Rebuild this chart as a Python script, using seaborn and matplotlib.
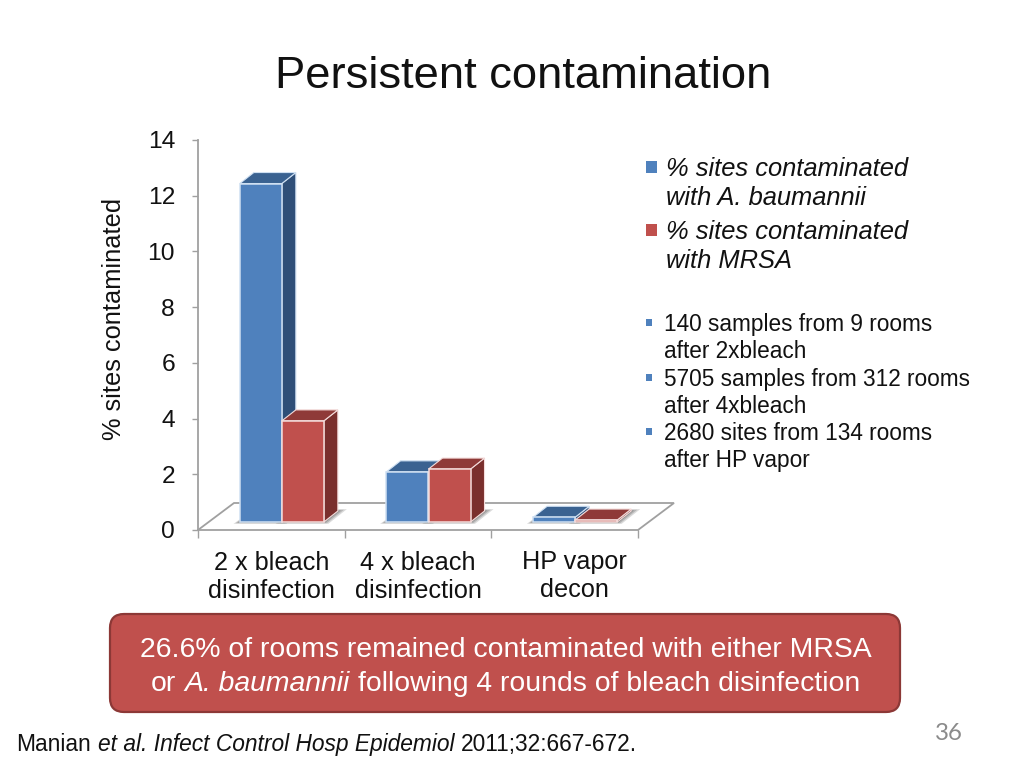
import pandas as pd
import seaborn as sns
import matplotlib.pyplot as plt
from matplotlib.patches import Polygon, Rectangle, FancyBboxPatch
from matplotlib.transforms import Affine2D

# chart values, measured from the floor of the bars
categories = ["2 x bleach\ndisinfection", "4 x bleach\ndisinfection", "HP vapor\ndecon"]
baumannii = [12.15, 1.8, 0.17]
mrsa = [3.63, 1.9, 0.07]
series_names = ["% sites contaminated\nwith A. baumannii", "% sites contaminated\nwith MRSA"]
y_ticks = [0, 2, 4, 6, 8, 10, 12, 14]
notes = ["140 samples from 9 rooms\nafter 2xbleach",
         "5705 samples from 312 rooms\nafter 4xbleach",
         "2680 sites from 134 rooms\nafter HP vapor"]

front_colors = ["#4f81bd", "#c0504d"]
top_colors = ["#3a6291", "#8f3a38"]
side_colors = ["#2f4f78", "#7a2f2d"]
edge_colors = ["#cfe0f2", "#f4dcdb"]
axis_gray = "#a0a0a0"
ink = "#111111"

sns.set_theme(style="white")
plt.rcParams['font.family'] = ['Liberation Sans', 'DejaVu Sans']
plt.rcParams['text.color'] = ink


def fs(px):
    return px * 0.72


df = pd.DataFrame({
    "category": categories * 2,
    "value": baumannii + mrsa,
    "series": [series_names[0]] * 3 + [series_names[1]] * 3,
})

fig = plt.figure(figsize=(10.24, 7.68), dpi=100)
# slide coordinates, in pixels from the top left
px = Affine2D().scale(1 / 1024, -1 / 768).translate(0, 1) + fig.transFigure
ax = fig.add_axes([198 / 1024, 1 - 530 / 768, 440 / 1024, 390 / 768])

sns.barplot(data=df, x="category", y="value", hue="series", palette=front_colors,
            width=0.573, gap=0, saturation=1, legend=False, ax=ax)

ax.set_xlim(-0.5, 2.5)
ax.set_ylim(0, 14)

# depth of the floor and of the bars, in data units
x_per_px = 3 / 440
y_per_px = 14 / 390
floor_dx, floor_dy = 36 * x_per_px, 27 * y_per_px
bar_dx, bar_dy = 14 * x_per_px, 11 * y_per_px
shift_x, lift_y = 10.5 * x_per_px, 8 * y_per_px

# floor behind the bars
ax.add_patch(Polygon([(-0.5, 0), (-0.5 + floor_dx, floor_dy), (2.5 + floor_dx, floor_dy), (2.5, 0)],
                     closed=False, fill=False, edgecolor=axis_gray, lw=1.3, clip_on=False, zorder=1))

# turn the flat seaborn bars into boxes
for i, container in enumerate(ax.containers):
    for bar in container:
        x0 = bar.get_x() + shift_x
        w = bar.get_width()
        h = bar.get_height()
        bar.set_x(x0)
        bar.set_y(lift_y)
        bar.set_edgecolor(edge_colors[i])
        bar.set_linewidth(1.1)
        bar.set_zorder(3 + i)
        bar.set_clip_on(False)
        y0 = lift_y
        y1 = lift_y + h
        x1 = x0 + w
        # soft shadow on the floor
        for grow, alpha in zip([9, 6, 3], [0.22, 0.28, 0.36]):
            gx = grow * x_per_px
            gy = grow * y_per_px * 0.2
            ax.add_patch(Polygon([(x0 - gx * 0.7, y0 - gy), (x1 + gx * 0.5, y0 - gy),
                                  (x1 + bar_dx + gx, y0 + bar_dy + gy), (x0 + bar_dx, y0 + bar_dy + gy)],
                                 facecolor="#5a5a5a", edgecolor="none", alpha=alpha, zorder=2, clip_on=False))
        ax.add_patch(Polygon([(x1, y0), (x1 + bar_dx, y0 + bar_dy), (x1 + bar_dx, y1 + bar_dy), (x1, y1)],
                             facecolor=side_colors[i], edgecolor=edge_colors[i], lw=0.8,
                             zorder=3 + i - 0.1, clip_on=False))
        ax.add_patch(Polygon([(x0, y1), (x0 + bar_dx, y1 + bar_dy), (x1 + bar_dx, y1 + bar_dy), (x1, y1)],
                             facecolor=top_colors[i], edgecolor=edge_colors[i], lw=0.8,
                             zorder=3 + i - 0.1, clip_on=False))

sns.despine(ax=ax, top=True, right=True)
for side in ["left", "bottom"]:
    ax.spines[side].set_color(axis_gray)
    ax.spines[side].set_linewidth(1.3)
    ax.spines[side].set_zorder(2)

ax.set_yticks(y_ticks)
ax.set_xticks([-0.5, 0.5, 1.5, 2.5], ["", "", "", ""])
ax.tick_params(axis="y", length=4.5, width=1, color=axis_gray, pad=12, labelsize=fs(24.5),
               labelcolor=ink, left=True)
ax.tick_params(axis="x", length=5.5, width=1, color=axis_gray, bottom=True)
ax.set_xlabel("")
ax.set_ylabel("% sites contaminated", fontsize=fs(25.4), color=ink)
ax.yaxis.set_label_coords(126, 319, transform=px)

# category labels, the last one sits a little off its slot as on the slide
label_shift = [(0, 0), (0, 0), (10, 1)]
for i, label in enumerate(categories):
    ax.annotate(label, xy=(i, 0), xycoords=("data", "axes fraction"),
                xytext=(fs(label_shift[i][0]), fs(-47 + label_shift[i][1])), textcoords="offset points",
                ha="center", va="center", fontsize=fs(25.3), linespacing=1.22)

# title
fig.text(523.5, 76.5, "Persistent contamination", transform=px, ha="center", va="center", fontsize=fs(45.4))

# legend
legend_y = [167, 230]
for y, name, color in zip(legend_y, series_names, front_colors):
    fig.add_artist(Rectangle((646, y - 6), 11, 12, transform=px, facecolor=color, edgecolor="none"))
    fig.text(666, y - 10, name, transform=px, fontsize=fs(25.5), style="italic", va="top", linespacing=1.27)

# sample notes
note_y = [323, 378, 432]
for y, note in zip(note_y, notes):
    fig.add_artist(Rectangle((646, y - 4), 6, 7, transform=px, facecolor=front_colors[0], edgecolor="none"))
    fig.text(664, y - 10, note, transform=px, fontsize=fs(22.6), va="top", linespacing=1.22)

# callout box
fig.add_artist(FancyBboxPatch((110, 614), 790, 98, boxstyle="round,pad=0,rounding_size=14",
                              transform=px, facecolor="#c0504d", edgecolor="#8c3836", lw=1.6))


def put_runs(x, y, runs, size, color, center=False):
    # lays out roman and italic pieces of one line next to each other
    renderer = fig.canvas.get_renderer()
    items = []
    total = 0
    gap = 0.28 * size
    for text, style in runs:
        t = fig.text(0, y, text, transform=px, fontsize=fs(size), style=style, color=color, va="baseline")
        width = t.get_window_extent(renderer).width
        items.append((t, width))
        total += width
    total += gap * (len(runs) - 1)
    pos = x - total / 2 if center else x
    for t, width in items:
        t.set_x(pos)
        pos += width + gap


put_runs(505.5, 657, [("26.6% of rooms remained contaminated with either MRSA", "normal")], 28.45, "white", center=True)
put_runs(505.5, 691, [("or", "normal"), ("A. baumannii", "italic"),
                      ("following 4 rounds of bleach disinfection", "normal")], 28.45, "white", center=True)

# citation and page number
put_runs(16.5, 751, [("Manian", "normal"), ("et al. Infect Control Hosp Epidemiol", "italic"),
                     ("2011;32:667-672.", "normal")], 22.75, ink)
fig.text(949, 734, "36", transform=px, ha="center", va="center", fontsize=fs(24), color="#8b8b8b", family="Lato")

fig.savefig("out.png", dpi=100, facecolor="white")
